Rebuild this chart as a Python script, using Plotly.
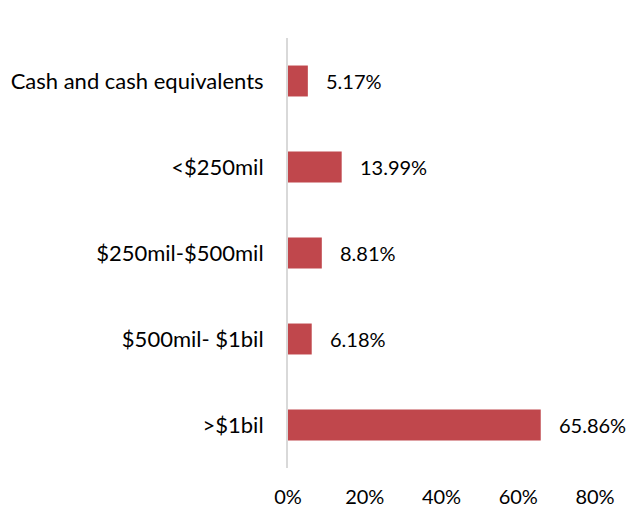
import plotly.graph_objects as go

categories = ["Cash and cash equivalents", "<$250mil", "$250mil-$500mil", "$500mil- $1bil", ">$1bil"]
values = [5.17, 13.99, 8.81, 6.18, 65.86]
tick_vals = [0, 20, 40, 60, 80]
tick_text = ["0%", "20%", "40%", "60%", "80%"]

bar_color = "#C0474C"
font_family = "Lato, 'Open Sans', sans-serif"

fig = go.Figure()
fig.add_trace(go.Bar(
    x=values, y=categories, orientation="h",
    marker=dict(color=bar_color, line=dict(width=0)),
    width=0.36,
    hoverinfo="skip",
))

for c, v in zip(categories, values):
    fig.add_annotation(
        x=v, y=c, text=f"{v:.2f}%", showarrow=False,
        xanchor="left", yanchor="middle", xshift=16,
        font=dict(family=font_family, size=20, color="#000000"),
    )

fig.update_layout(
    width=638, height=513,
    margin=dict(l=288, r=43, t=38, b=45, autoexpand=False),
    paper_bgcolor="white", plot_bgcolor="white",
    showlegend=False,
    font=dict(family=font_family, size=20, color="#000000"),
    bargap=0.64,
)
fig.update_xaxes(
    range=[0, 80], tickvals=tick_vals, ticktext=tick_text,
    showgrid=False, zeroline=False, showline=False,
    ticks="outside", ticklen=11, tickcolor="rgba(0,0,0,0)",
    tickfont=dict(family=font_family, size=20, color="#000000"),
    fixedrange=True, automargin=False,
)
fig.update_yaxes(
    categoryorder="array", categoryarray=categories[::-1],
    showgrid=False, zeroline=False,
    showline=True, linecolor="#D9D9D9", linewidth=2,
    ticks="outside", ticklen=18, tickcolor="rgba(0,0,0,0)",
    tickfont=dict(family=font_family, size=22, color="#000000"),
    fixedrange=True, automargin=False,
)

fig.write_html(
    "out.html",
    config={"displayModeBar": False, "staticPlot": True},
    post_script="document.body.style.margin='0';document.body.style.overflow='hidden';",
)
